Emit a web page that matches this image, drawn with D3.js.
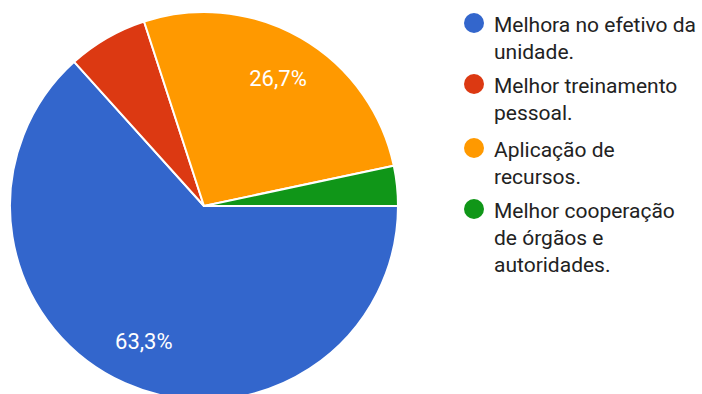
<!DOCTYPE html>
<html>
<head>
<meta charset="utf-8">
<script src="https://cdn.jsdelivr.net/npm/d3@7"></script>
<style>
  html, body { margin: 0; padding: 0; background: #fff; }
  svg { display: block; }
</style>
</head>
<body>
<svg id="chart" width="702" height="394"></svg>
<script>
// Responses per option (30 answers in total)
const categories = [
  "Melhora no efetivo da unidade.",
  "Melhor treinamento pessoal.",
  "Aplicação de recursos.",
  "Melhor cooperação de órgãos e autoridades."
];
const counts = [19, 2, 8, 1];
const legendLines = [
  ["Melhora no efetivo da", "unidade."],
  ["Melhor treinamento", "pessoal."],
  ["Aplicação de", "recursos."],
  ["Melhor cooperação", "de órgãos e", "autoridades."]
];
const colors = ["#3366cc", "#dc3912", "#ff9900", "#109618"];

const svg = d3.select("#chart");
const font = "Roboto, Arial, sans-serif";

const cx = 204, cy = 206, R = 194;
const total = d3.sum(counts);

const color = d3.scaleOrdinal().domain(categories).range(colors);

// Slices run clockwise starting from 3 o'clock
const pie = d3.pie()
  .value(d => d.count)
  .sort(null)
  .startAngle(Math.PI / 2)
  .endAngle(Math.PI / 2 + 2 * Math.PI);

const data = categories.map((c, i) => ({ name: c, count: counts[i] }));
const arcs = pie(data);

const arc = d3.arc().innerRadius(0).outerRadius(R);
const labelArc = d3.arc().innerRadius(148).outerRadius(148);

const g = svg.append("g").attr("transform", `translate(${cx},${cy})`);

g.selectAll("path.slice")
  .data(arcs)
  .join("path")
  .attr("class", "slice")
  .attr("d", arc)
  .attr("fill", d => color(d.data.name))
  .attr("stroke", "#fff")
  .attr("stroke-width", 2)
  .attr("stroke-linejoin", "round");

// Percentage labels only on slices large enough to hold them
const fmt = v => (v * 100).toFixed(1).replace(".", ",") + "%";
g.selectAll("text.pct")
  .data(arcs.filter(d => d.data.count / total > 0.1))
  .join("text")
  .attr("class", "pct")
  .attr("transform", d => `translate(${labelArc.centroid(d)})`)
  .attr("text-anchor", "middle")
  .attr("dy", "0.36em")
  .attr("fill", "#fff")
  .style("font-family", font)
  .style("font-size", "22px")
  .text(d => fmt(d.data.count / total));

// Legend
const legendX = 474, textX = 494;
const itemY = [32, 93, 157, 218];
const lineH = 27;

const items = svg.append("g").selectAll("g.item")
  .data(categories)
  .join("g")
  .attr("class", "item")
  .attr("transform", (d, i) => `translate(0,${itemY[i]})`);

items.append("circle")
  .attr("cx", legendX)
  .attr("cy", -9)
  .attr("r", 10)
  .attr("fill", d => color(d));

items.append("text")
  .attr("x", textX)
  .attr("y", 0)
  .attr("fill", "#222")
  .style("font-family", font)
  .style("font-size", "21px")
  .selectAll("tspan")
  .data((d, i) => legendLines[i])
  .join("tspan")
  .attr("x", textX)
  .attr("dy", (d, j) => j === 0 ? 0 : lineH)
  .text(d => d);
</script>
</body>
</html>
